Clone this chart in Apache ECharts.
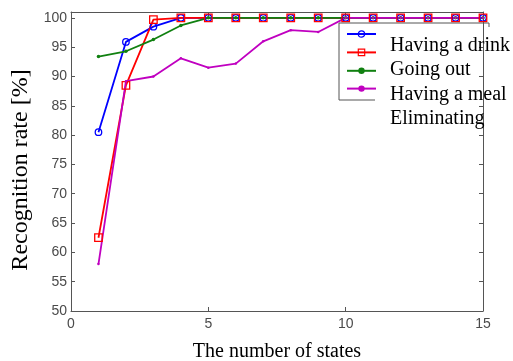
<!DOCTYPE html>
<html>
<head>
<meta charset="utf-8">
<script src="https://cdn.jsdelivr.net/npm/echarts@6/dist/echarts.min.js"></script>
<style>
  html, body { margin: 0; padding: 0; background: #fff; }
  #chart { width: 513px; height: 361px; }
</style>
</head>
<body>
<div id="chart"></div>
<script>
// Number of states (x) and recognition rate per behaviour (%)
const states = [1, 2, 3, 4, 5, 6, 7, 8, 9, 10, 11, 12, 13, 14, 15];
const havingDrink = [80.5, 95.9, 98.5, 100, 100, 100, 100, 100, 100, 100, 100, 100, 100, 100, 100];
const goingOut = [62.5, 88.5, 99.7, 100, 100, 100, 100, 100, 100, 100, 100, 100, 100, 100, 100];
const havingMeal = [93.4, 94.3, 96.3, 98.7, 100, 100, 100, 100, 100, 100, 100, 100, 100, 100, 100];
const eliminating = [58.0, 89.2, 90.0, 93.1, 91.5, 92.2, 96.0, 97.9, 97.6, 100, 100, 100, 100, 100, 100];

const seriesNames = ['Having a drink', 'Going out', 'Having a meal', 'Eliminating'];
const seriesColors = ['#0000ff', '#ff0000', '#108010', '#c000c0'];
const xTicks = [0, 5, 10, 15];
const yTicks = [50, 55, 60, 65, 70, 75, 80, 85, 90, 95, 100];

const axisGrey = '#555';
const labelGrey = '#4a4a4a';

const pairs = arr => states.map((s, i) => [s, arr[i]]);

const chart = echarts.init(document.getElementById('chart'));

const baseX = {
  type: 'value', min: 0, max: 15, interval: 5,
  axisLine: { show: true, onZero: false, lineStyle: { color: axisGrey, width: 1 } },
  axisTick: { show: true, inside: true, length: 4, lineStyle: { color: axisGrey } },
  splitLine: { show: false }
};
const baseY = {
  type: 'value', min: 50, max: 101,
  axisLine: { show: true, onZero: false, lineStyle: { color: axisGrey, width: 1 } },
  axisTick: { show: true, inside: true, length: 4, customValues: yTicks, lineStyle: { color: axisGrey } },
  splitLine: { show: false }
};

const hollow = [true, true, false, false];

function markerStyle(i, border) {
  const color = seriesColors[i];
  return {
    color: hollow[i] ? 'rgba(0,0,0,0)' : color,
    borderColor: color,
    borderWidth: hollow[i] ? border : 0
  };
}

// Hollow markers let the lines underneath show through
function lineSeries(i, data, symbol, size) {
  return {
    name: seriesNames[i], type: 'line', data: pairs(data),
    symbol, symbolSize: size, showSymbol: true,
    lineStyle: { color: seriesColors[i], width: 1.8 },
    itemStyle: markerStyle(i, 1.3),
    emphasis: { disabled: true },
    animation: false
  };
}

chart.setOption({
  animation: false,
  grid: { left: 71, right: 30, top: 12, bottom: 50, outerBoundsMode: 'none' },
  xAxis: [
    Object.assign({}, baseX, {
      position: 'bottom',
      axisLabel: { show: true, customValues: xTicks, color: labelGrey, fontFamily: 'Liberation Sans', fontSize: 14, margin: 6 },
      name: 'The number of states', nameLocation: 'middle', nameGap: 31,
      nameTextStyle: { fontFamily: 'Liberation Serif', fontSize: 20, color: '#000' }
    }),
    Object.assign({}, baseX, { position: 'top', axisLabel: { show: false } })
  ],
  yAxis: [
    Object.assign({}, baseY, {
      position: 'left',
      axisLabel: { show: true, customValues: yTicks, color: labelGrey, fontFamily: 'Liberation Sans', fontSize: 14, margin: 4 },
      name: 'Recognition rate [%]', nameLocation: 'middle', nameGap: 37, nameRotate: 90,
      nameTextStyle: { fontFamily: 'Liberation Serif', fontSize: 24, color: '#000', padding: [0, 17, 0, 0] }
    }),
    Object.assign({}, baseY, { position: 'right', axisLabel: { show: false } })
  ],
  legend: {
    orient: 'vertical', left: 346, top: 30, padding: 0,
    itemWidth: 29, itemHeight: 8, itemGap: 10.6,
    data: seriesNames.map((name, i) => ({ name, itemStyle: markerStyle(i, 1.2) })),
    formatter: () => '',
    textStyle: { fontSize: 1 },
    selectedMode: false
  },
  series: [
    lineSeries(0, havingDrink, 'circle', 6.5),
    lineSeries(1, goingOut, 'rect', 7.5),
    lineSeries(2, havingMeal, 'circle', 3.5),
    lineSeries(3, eliminating, 'circle', 2.5)
  ],
  graphic: [
    {
      type: 'polyline', z: 5,
      shape: { points: [[489, 27], [489, 23], [339, 23], [339, 100], [375, 100]] },
      style: { fill: null, stroke: axisGrey, lineWidth: 1 }
    },
    ...seriesNames.map((n, i) => ({
      type: 'text', left: 390, top: 36 + i * 24.2, z: 10,
      style: { text: n, fontFamily: 'Liberation Serif', fontSize: 20, fill: '#000' }
    }))
  ]
});
</script>
</body>
</html>
